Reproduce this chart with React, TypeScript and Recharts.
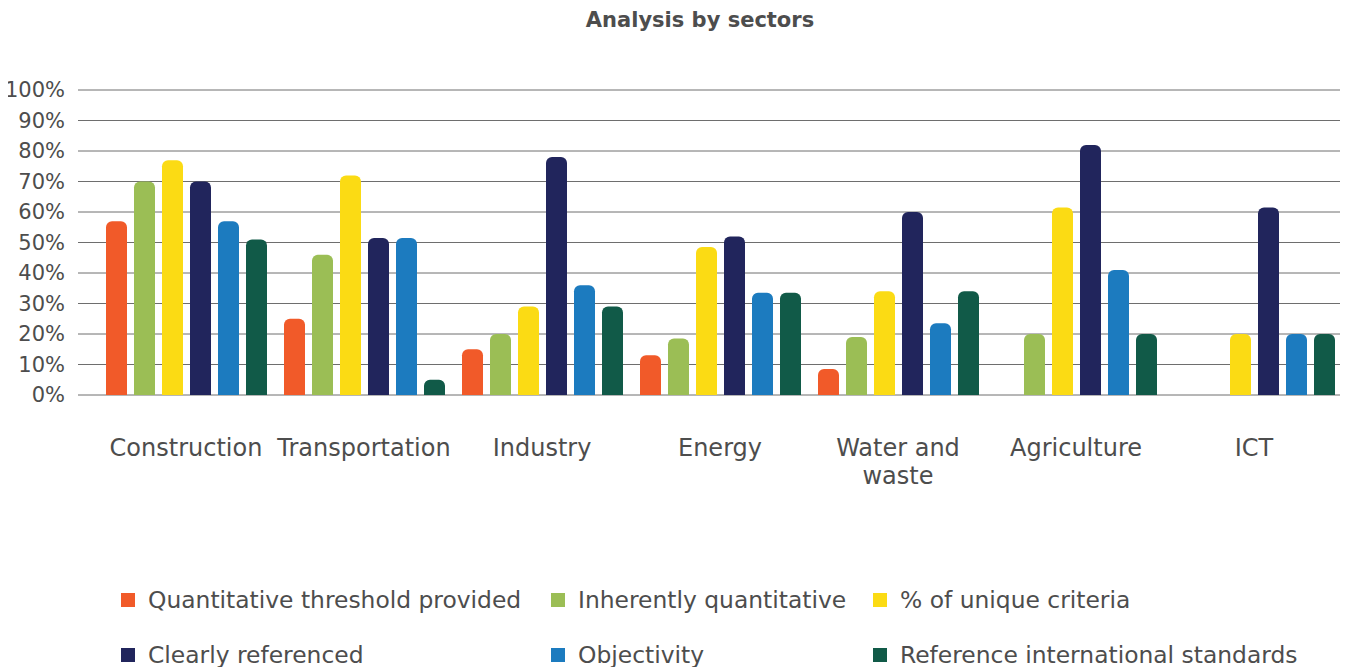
import React from "react";
import { BarChart, Bar, XAxis, YAxis, CartesianGrid, Legend } from "recharts";

const categories = ["Construction", "Transportation", "Industry", "Energy", "Water and waste", "Agriculture", "ICT"];
const quantThreshold = [57, 25, 15, 13, 8.5, null, null];
const inherentlyQuant = [70, 46, 20, 18.5, 19, 20, null];
const uniqueCriteria = [77, 72, 29, 48.5, 34, 61.5, 20];
const clearlyRef = [70, 51.5, 78, 52, 60, 82, 61.5];
const objectivity = [57, 51.5, 36, 33.5, 23.5, 41, 20];
const refIntl = [51, 5, 29, 33.5, 34, 20, 20];
const yTicks = [0, 10, 20, 30, 40, 50, 60, 70, 80, 90, 100];

const seriesNames = [
  "Quantitative threshold provided",
  "Inherently quantitative",
  "% of unique criteria",
  "Clearly referenced",
  "Objectivity",
  "Reference international standards",
];
const seriesColors = ["#F15A29", "#9BBE55", "#FBDB14", "#21255C", "#1C7BBF", "#115A48"];
const seriesKeys = ["q", "iq", "u", "cr", "o", "ri"];
const seriesValues = [quantThreshold, inherentlyQuant, uniqueCriteria, clearlyRef, objectivity, refIntl];

const data = categories.map((c, i) => {
  const row: any = { name: c };
  seriesKeys.forEach((k, j) => {
    row[k] = seriesValues[j][i];
  });
  return row;
});

const FONT = "'DejaVu Sans', sans-serif";
const TEXT = "#4d4d4d";

const splitLabel = (s: string) => {
  if (s.length > 12 && s.includes(" ")) {
    const idx = s.lastIndexOf(" ");
    return [s.slice(0, idx), s.slice(idx + 1)];
  }
  return [s];
};

const CatTick = (props: any) => {
  const { x, y, payload } = props;
  const lines = splitLabel(String(payload.value));
  return (
    <text x={x} y={y} textAnchor="middle" fontSize={24} fill={TEXT} fontFamily={FONT}>
      {lines.map((l, i) => (
        <tspan key={i} x={x} dy={i === 0 ? "0.71em" : "28px"}>
          {l}
        </tspan>
      ))}
    </text>
  );
};

const LegendContent = () => {
  return (
    <div
      style={{
        height: 130,
        boxSizing: "border-box",
        paddingTop: 48,
        paddingLeft: 121,
        display: "grid",
        gridTemplateColumns: "430px 322px auto",
        gridAutoRows: "30px",
        rowGap: 25,
        fontFamily: FONT,
        fontSize: 23.4,
        color: TEXT,
      }}
    >
      {seriesNames.map((n, i) => (
        <div key={n} style={{ display: "flex", alignItems: "center", whiteSpace: "nowrap" }}>
          <span style={{ display: "inline-block", width: 14, height: 14, background: seriesColors[i], marginRight: 13 }} />
          <span>{n}</span>
        </div>
      ))}
    </div>
  );
};

export default function App() {
  return (
    <div
      style={{
        marginLeft: -8,
        marginTop: -8,
        marginRight: -8,
        width: 1348,
        height: 667,
        position: "relative",
        background: "#fff",
      }}
    >
      <div
        style={{
          position: "absolute",
          top: 7,
          left: 700,
          transform: "translateX(-50%)",
          fontFamily: FONT,
          fontWeight: "bold",
          fontSize: 21,
          lineHeight: "26px",
          color: TEXT,
          whiteSpace: "nowrap",
          zIndex: 2,
        }}
      >
        Analysis by sectors
      </div>
      <BarChart
        width={1348}
        height={667}
        data={data}
        margin={{ top: 90, right: 0, left: 0, bottom: 0 }}
        barSize={21}
        barGap={7}
        barCategoryGap={8}
      >
        <CartesianGrid vertical={false} stroke="#6e6e6e" strokeWidth={1} />
        <XAxis
          dataKey="name"
          axisLine={false}
          tickLine={false}
          tickSize={0}
          tickMargin={44}
          height={142}
          interval={0}
          padding={{ left: 19, right: 5 }}
          tick={<CatTick />}
        />
        <YAxis
          domain={[0, 100]}
          ticks={yTicks}
          tickFormatter={(v: number) => `${v}%`}
          axisLine={false}
          tickLine={false}
          tickMargin={7}
          width={78}
          interval={0}
          tick={{ fontSize: 21, fill: TEXT, fontFamily: FONT }}
        />
        <Legend verticalAlign="bottom" content={<LegendContent />} />
        {seriesKeys.map((k, j) => (
          <Bar
            key={k}
            dataKey={k}
            name={seriesNames[j]}
            fill={seriesColors[j]}
            radius={[6, 6, 0, 0]}
            isAnimationActive={false}
          />
        ))}
      </BarChart>
    </div>
  );
}
